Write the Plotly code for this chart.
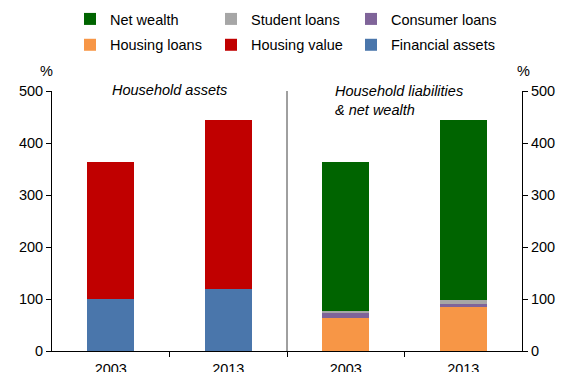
import plotly.graph_objects as go

# Household balance sheet, % of disposable income
years = ["2003", "2013"]

# Assets side (left panel)
financial_assets = [100, 119]
housing_value = [263, 325]

# Liabilities & net wealth side (right panel)
housing_loans = [64, 85]
consumer_loans = [9, 6]
student_loans = [4, 6.5]
net_wealth = [286, 346.5]

y_ticks = [0, 100, 200, 300, 400, 500]

FONT = "Liberation Sans, Arial, sans-serif"
x_assets = [0, 1]
x_liab = [2, 3]

PLOT_L, PLOT_T, PLOT_W, PLOT_H = 52, 91, 470, 260

fig = go.Figure()

def add_bar(x, y, name, color, legend, rank, yaxis="y"):
    fig.add_trace(go.Bar(
        x=x, y=y, name=name, marker=dict(color=color, line=dict(width=0)),
        width=0.4, legend=legend, legendgroup=name, legendrank=rank, yaxis=yaxis,
        hovertemplate=name + ": %{y}<extra></extra>",
    ))

# stacking order bottom-up; one legend per column (top row rank 1, bottom row rank 2)
add_bar(x_assets, financial_assets, "Financial assets", "#4A76AB", "legend3", 2)
add_bar(x_assets, housing_value, "Housing value", "#C00000", "legend2", 2)
add_bar(x_liab, housing_loans, "Housing loans", "#F79646", "legend", 2, "y2")
add_bar(x_liab, consumer_loans, "Consumer loans", "#7F6499", "legend3", 1, "y2")
add_bar(x_liab, student_loans, "Student loans", "#A6A6A6", "legend2", 1, "y2")
add_bar(x_liab, net_wealth, "Net wealth", "#006400", "legend", 1, "y2")

axis_common = dict(
    range=[0, 500], tickvals=y_ticks, ticks="outside", ticklen=5,
    tickcolor="#000", showline=True, linecolor="#000", linewidth=1,
    showgrid=False, zeroline=False, tickfont=dict(size=14.5, color="#000"),
    automargin=False,
)

def py(pix):
    """pixel row -> paper y"""
    return (PLOT_T + PLOT_H - pix) / PLOT_H

def px(pix):
    """pixel column -> paper x"""
    return (pix - PLOT_L) / PLOT_W

legend_common = dict(
    orientation="v", xanchor="left", yanchor="top",
    font=dict(family=FONT, size=14.5, color="#000"),
    bgcolor="rgba(0,0,0,0)", traceorder="grouped", tracegroupgap=4,
    yref="container", y=1 - 3 / 372,
)

fig.update_layout(
    width=561, height=372,
    margin=dict(l=PLOT_L, r=561 - PLOT_L - PLOT_W, t=PLOT_T, b=372 - PLOT_T - PLOT_H),
    paper_bgcolor="white", plot_bgcolor="white",
    font=dict(family=FONT, size=14.5, color="#000"),
    barmode="stack",
    xaxis=dict(
        range=[-0.5, 3.5], tickvals=[0, 1, 2, 3], ticktext=years + years,
        ticks="", showline=True, linecolor="#000", linewidth=1,
        showgrid=False, zeroline=False, tickfont=dict(size=14.5, color="#000"),
        ticklabelstandoff=5, automargin=False,
        minor=dict(tickmode="array", tickvals=[0.5, 1.5, 2.5], ticks="outside",
                   ticklen=5, tickcolor="#000"),
    ),
    yaxis=dict(**axis_common),
    yaxis2=dict(**axis_common, overlaying="y", side="right", matches="y"),
    legend=dict(**legend_common, x=px(70)),
    legend2=dict(**legend_common, x=px(211)),
    legend3=dict(**legend_common, x=px(351)),
    showlegend=True,
)

# panel divider
fig.add_shape(type="line", xref="x", yref="paper", x0=1.5, x1=1.5, y0=0, y1=1,
              line=dict(color="#404040", width=1))

# panel titles and units
fig.add_annotation(xref="x", yref="paper", x=0.5, y=py(90), yanchor="middle",
                   text="<i>Household assets</i>", showarrow=False)
fig.add_annotation(xref="paper", yref="paper", x=px(333), y=py(81),
                   xanchor="left", yanchor="top", align="left",
                   text="<i>Household liabilities<br>& net wealth</i>",
                   showarrow=False)
fig.add_annotation(xref="paper", yref="paper", x=px(38), y=py(71),
                   yanchor="middle", text="%", showarrow=False)
fig.add_annotation(xref="paper", yref="paper", x=px(532), y=py(71),
                   yanchor="middle", text="%", showarrow=False)

fig.write_html("out.html")
